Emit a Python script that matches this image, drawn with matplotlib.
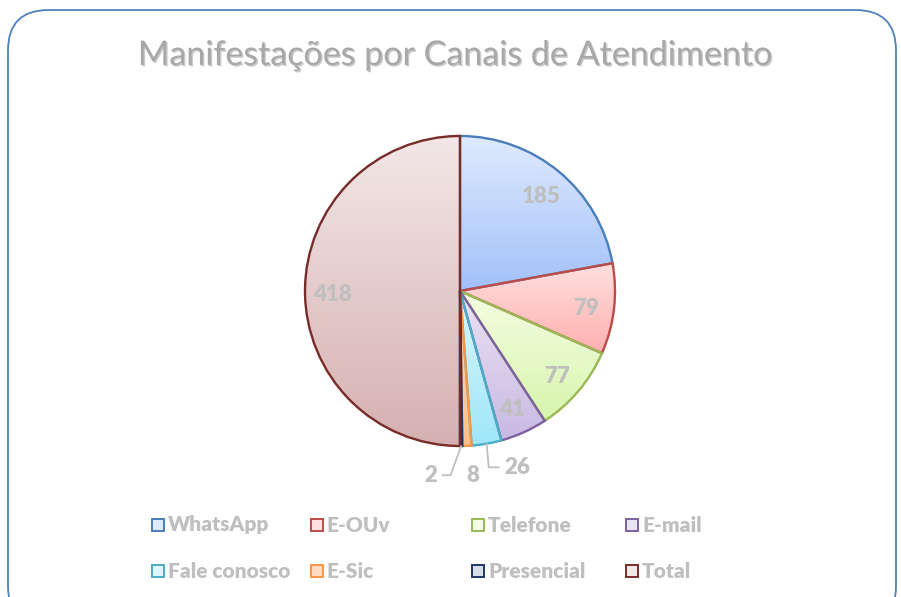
import numpy as np
import matplotlib
matplotlib.use("Agg")
import matplotlib.pyplot as plt
from matplotlib.patches import FancyBboxPatch, Rectangle
from matplotlib.colors import LinearSegmentedColormap
import matplotlib.patheffects as pe

# ── Data ─────────────────────────────────────────────────────────────────────
canais = ["WhatsApp", "E-OUv", "Telefone", "E-mail",
          "Fale conosco", "E-Sic", "Presencial", "Total"]
valores = [185, 79, 77, 41, 26, 8, 2, 418]

# cores: (borda, topo do gradiente, base do gradiente)
bordas = ["#4a7ebb", "#be4b48", "#98b954", "#7d60a0",
          "#4bacc6", "#f79646", "#1f3864", "#772c2a"]
topo = ["#dfeafd", "#ffe0e0", "#f4fde3", "#ebe3f4",
        "#dcf7fd", "#ffdcc0", "#d8dee8", "#f3e7e7"]
base = ["#a2c1fa", "#ffb0ae", "#d8f5ad", "#c9b9e3",
        "#9ee6f9", "#fbbf8c", "#aab6c8", "#d6b0b0"]

W, H = 901, 597
CX, CY, R = 460, 291, 155          # centro e raio do pie em pixels
GRAY = "#bfbfbf"
FONT = "Lato"

fig = plt.figure(figsize=(W / 100, H / 100), dpi=100)
fig.patch.set_facecolor("white")

# ── Moldura arredondada ──────────────────────────────────────────────────────
frame = FancyBboxPatch((8 / W, -0.05), (888) / W, (H - 10) / H + 0.05,
                       boxstyle="round,pad=0,rounding_size=0.045",
                       transform=fig.transFigure, facecolor="none",
                       edgecolor="#4f81bd", linewidth=1.3,
                       mutation_aspect=W / H, zorder=-1)
fig.patches.append(frame)

# ── Título ───────────────────────────────────────────────────────────────────
fig.text(455 / W, 1 - 55 / H, "Manifestações por Canais de Atendimento",
         ha="center", va="center", fontsize=24.5, color="#a8a8a8",
         family=FONT,
         path_effects=[pe.withSimplePatchShadow(offset=(1, -1),
                                                shadow_rgbFace="#8a8a8a",
                                                alpha=0.45)])

# ── Pie ──────────────────────────────────────────────────────────────────────
half = 200
ax = fig.add_axes([(CX - half) / W, (H - CY - half) / H, 2 * half / W, 2 * half / H])
ax.patch.set_visible(False)
ax.axis("off")

wedges, _ = ax.pie(valores, startangle=90, counterclock=False, radius=1,
                   colors=["none"] * len(valores),
                   wedgeprops=dict(linewidth=1.7))
for w, ec, c0, c1 in zip(wedges, bordas, topo, base):
    w.set_edgecolor(ec)
    w.set_facecolor("none")
    w.set_zorder(2)
    bb = w.get_path().get_extents()
    cmap = LinearSegmentedColormap.from_list("g", [c0, c1])
    grad = np.linspace(0, 1, 256).reshape(-1, 1)
    im = ax.imshow(grad, cmap=cmap, aspect="auto", zorder=1,
                   extent=[bb.x0, bb.x1, bb.y0, bb.y1], origin="upper")
    im.set_clip_path(w)

ax.set_xlim(-half / R, half / R)
ax.set_ylim(-half / R, half / R)

# ── Rótulos de dados ─────────────────────────────────────────────────────────
total = sum(valores)
ang = 90.0
lbl_kw = dict(fontsize=16, fontweight="heavy", color=GRAY, family=FONT,
              ha="center", va="center", zorder=5)
for i, v in enumerate(valores):
    span = v / total * 360
    mid = np.deg2rad(ang - span / 2)
    ang -= span
    ex, ey = np.cos(mid), np.sin(mid)
    if v >= 40:
        ax.text(0.82 * ex, 0.82 * ey - 0.02, str(v), **lbl_kw)
    elif canais[i] == "Fale conosco":
        ax.annotate(str(v), xy=(ex, ey), xytext=(22, -17),
                    textcoords="offset points", **lbl_kw,
                    arrowprops=dict(arrowstyle="-", color=GRAY, lw=1.3,
                                    shrinkA=2, shrinkB=0,
                                    connectionstyle="angle,angleA=0,angleB=95,rad=0"))
    elif canais[i] == "E-Sic":
        ax.text(ex + 0.04, ey - 0.19, str(v), **lbl_kw)
    else:
        ax.annotate(str(v), xy=(ex, ey), xytext=(-22, -21),
                    textcoords="offset points", **lbl_kw,
                    arrowprops=dict(arrowstyle="-", color=GRAY, lw=1.3,
                                    shrinkA=2, shrinkB=0,
                                    connectionstyle="angle,angleA=0,angleB=70,rad=0"))

# ── Legenda manual (4 colunas x 2 linhas) ────────────────────────────────────
col_x = [152, 311, 472, 626]
row_y = [525, 571]
sq = 12
for i, (nome, ec, c0, c1) in enumerate(zip(canais, bordas, topo, base)):
    x = col_x[i % 4]
    y = row_y[i // 4]
    fig.patches.append(Rectangle((x / W, (H - y - sq / 2) / H), sq / W, sq / H,
                                 transform=fig.transFigure, facecolor=c0,
                                 edgecolor=ec, linewidth=1.4))
    fig.text((x + sq + 4) / W, 1 - y / H, nome, ha="left", va="center",
             fontsize=15, fontweight="heavy", color=GRAY, family=FONT)

fig.savefig("out.png", dpi=100, facecolor="white")
